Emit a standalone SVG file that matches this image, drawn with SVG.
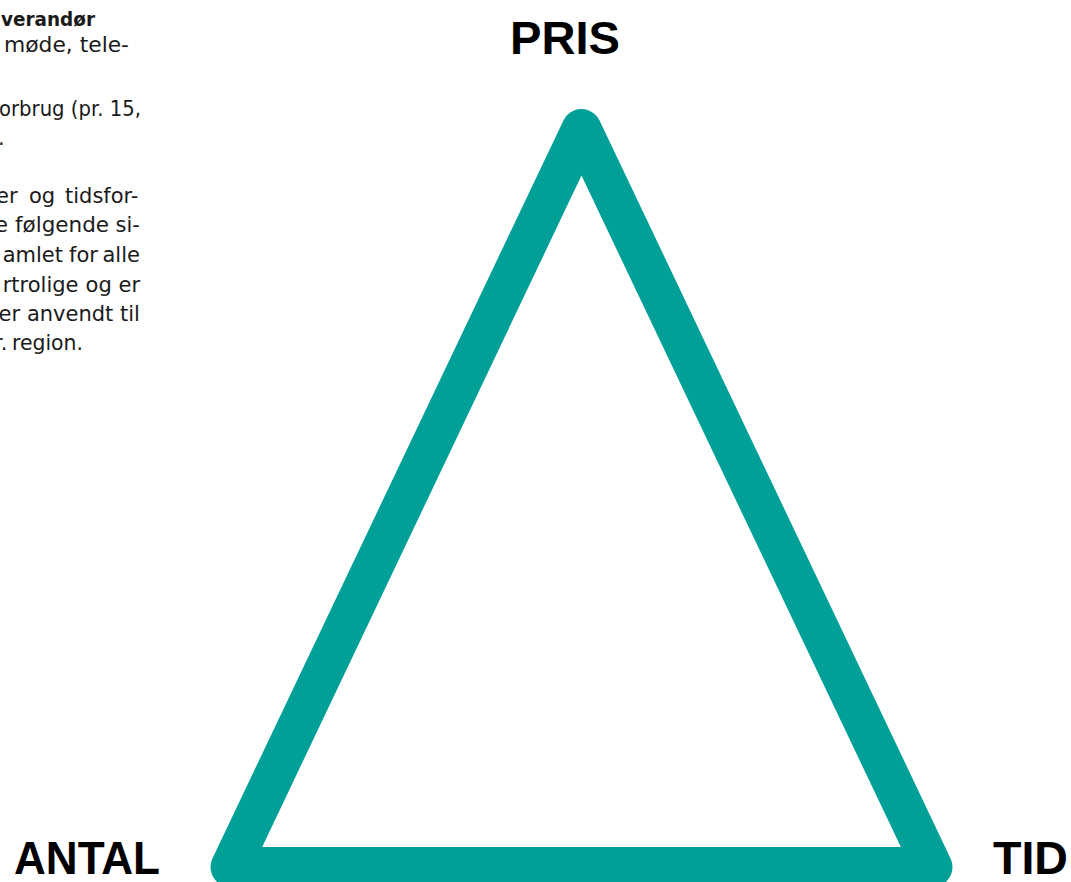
<svg xmlns="http://www.w3.org/2000/svg" width="1071" height="882" viewBox="0 0 1071 882">
<style>
.body{font-family:"DejaVu Sans","Liberation Sans",sans-serif;font-size:21px;fill:#1a1a1a}
.bold{font-weight:bold;font-size:20px}
.big{font-family:"Liberation Sans","Arial",sans-serif;font-weight:bold;font-size:46px;fill:#000}
.tri{fill:none;stroke:#00A099;stroke-width:40;stroke-linejoin:round}
</style>
<rect width="1071" height="882" fill="#fff"/>
<g id="text-block">
<text class="body bold" x="1" y="26" textLength="94" lengthAdjust="spacingAndGlyphs">verandør</text>
<text class="body" x="4" y="52" textLength="125" lengthAdjust="spacingAndGlyphs">møde, tele-</text>
<text class="body" x="-1" y="116" textLength="142" lengthAdjust="spacingAndGlyphs">orbrug (pr. 15,</text>
<text class="body" x="-2" y="145">.</text>
<text class="body" x="-4" y="203">er</text>
<text class="body" x="29" y="203">og</text>
<text class="body" x="65" y="203">tidsfor-</text>
<text class="body" x="-5" y="232">e</text>
<text class="body" x="15" y="232" textLength="94" lengthAdjust="spacingAndGlyphs">følgende</text>
<text class="body" x="115.6" y="232">si-</text>
<text class="body" x="2.7" y="262">amlet</text>
<text class="body" x="69" y="262">for</text>
<text class="body" x="102.5" y="262">alle</text>
<text class="body" x="2.7" y="292">rtrolige</text>
<text class="body" x="85.6" y="292">og</text>
<text class="body" x="118.5" y="292">er</text>
<text class="body" x="-1.5" y="321">er</text>
<text class="body" x="26.9" y="321">anvendt</text>
<text class="body" x="120" y="321">til</text>
<text class="body" x="-6" y="350">r.</text>
<text class="body" x="12" y="350" textLength="71" lengthAdjust="spacingAndGlyphs">region.</text>
</g>
<g id="triangle">
<polygon class="tri" points="581.5,129 230.5,867 932.5,867"/>
</g>
<g id="labels">
<text id="pris" class="big" x="510" y="54" textLength="110" lengthAdjust="spacingAndGlyphs">PRIS</text>
<text id="antal" class="big" x="14" y="874" textLength="146" lengthAdjust="spacingAndGlyphs">ANTAL</text>
<text id="tid" class="big" x="993" y="874" textLength="75" lengthAdjust="spacingAndGlyphs">TID</text>
</g>
</svg>
